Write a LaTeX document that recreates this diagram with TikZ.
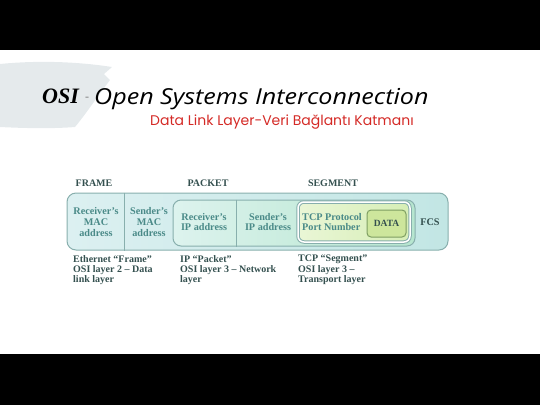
\documentclass[tikz,border=0pt]{standalone}
\usepackage{fontspec}
\setmainfont{Liberation Serif}
\newfontfamily\titlefont{Open Sans}
\newfontfamily\subfont{Poppins}
\usetikzlibrary{positioning}

\definecolor{boxtext}{HTML}{4A8A88}
\definecolor{captext}{HTML}{34504F}
\definecolor{boxline}{HTML}{88AFAD}
\definecolor{subred}{HTML}{D42A26}
\definecolor{swoosh}{HTML}{E5EAEC}
\definecolor{frameleft}{HTML}{DCF0F1}
\definecolor{frameright}{HTML}{C2E6E4}
\definecolor{packetleft}{HTML}{DDF3EE}
\definecolor{packetright}{HTML}{B6E6CF}
\definecolor{segleft}{HTML}{EAF6D6}
\definecolor{segright}{HTML}{D6EEB6}
\definecolor{datafill}{HTML}{CDE69C}
\definecolor{dataline}{HTML}{7E9E62}

\tikzset{
  hdr/.style={font=\bfseries\fontsize{10}{12}\selectfont, text=captext},
  inbox/.style={font=\bfseries\fontsize{10.2}{10.6}\selectfont, text=boxtext, align=center},
  caption/.style={font=\bfseries\fontsize{10}{10.2}\selectfont, text=captext, align=left, anchor=north west, inner sep=0pt},
  layerbox/.style={draw=boxline, line width=1pt, rounded corners=9pt, inner sep=0pt}
}

\begin{document}
\begin{tikzpicture}[x=1pt,y=-1pt]
  \useasboundingbox (0,0) rectangle (540,405);
  \fill[black] (0,0) rectangle (540,50);
  \fill[black] (0,354) rectangle (540,405);

  % brush stroke behind the title
  \fill[swoosh] (0,64) .. controls (40,60) and (80,62) .. (112,67)
    -- (104,74) -- (110,80) .. controls (95,100) and (85,115) .. (75,127)
    .. controls (50,129) and (20,128) .. (0,127) -- cycle;

  % title
  \node[anchor=base west, inner sep=0pt, font=\bfseries\itshape\fontsize{22}{24}\selectfont] (osi) at (42,103) {OSI};
  \node[anchor=base west, inner sep=0pt, text=gray, font=\fontsize{12}{14}\selectfont] (dash) at (85,100) {-};
  \node[anchor=base west, inner sep=0pt, font=\titlefont\itshape\fontsize{22}{24}\selectfont] (title) at (94,104) {\scalebox{1.14}[1]{Open Systems Interconnection}};
  \node[anchor=base west, inner sep=0pt, text=subred, font=\subfont\fontsize{14}{16}\selectfont] (subtitle) at (150,125) {Data Link Layer-Veri Bağlantı Katmanı};

  % headers
  \node[hdr] (hframe) at (94,183) {FRAME};
  \node[hdr] (hpacket) at (208,183) {PACKET};
  \node[hdr] (hsegment) at (333,183) {SEGMENT};

  % nested boxes
  \node[layerbox, minimum width=381pt, minimum height=57pt, left color=frameleft, right color=frameright] (frame) at (257.5,221.5) {};
  \node[layerbox, rounded corners=8pt, minimum width=242pt, minimum height=46pt, left color=packetleft, right color=packetright] (packet) at (294,223) {};
  \node[layerbox, rounded corners=6pt, double=white, double distance=1.5pt, minimum width=112pt, minimum height=40pt, left color=segleft, right color=segright] (segment) at (354,222) {};
  \node[draw=dataline, line width=1pt, rounded corners=4pt, minimum width=39pt, minimum height=27pt, fill=datafill, font=\bfseries\fontsize{9.5}{10}\selectfont, text=captext] (data) at (386.5,223.5) {DATA};

  \coordinate (macsplit) at (124,0);
  \coordinate (ipsplit) at (236,0);
  \draw[boxline, line width=0.7pt] (frame.north -| macsplit) -- (frame.south -| macsplit);
  \draw[boxline, line width=0.7pt] (packet.north -| ipsplit) -- (packet.south -| ipsplit);

  % fields
  \node[inbox] (rmac) at (96,222) {Receiver's\\MAC\\address};
  \node[inbox] (smac) at (149,222) {Sender's\\MAC\\address};
  \node[inbox] (rip) at (204,222) {Receiver's\\IP address};
  \node[inbox] (sip) at (268,222) {Sender's\\IP address};
  \node[inbox, align=left] (tcp) at (332,222) {TCP Protocol\\Port Number};
  \node[inbox, text=captext] (fcs) at (430,222) {FCS};

  % captions
  \node[caption] (cframe) at (73,255) {Ethernet ``Frame''\\OSI layer 2 -- Data\\link layer};
  \node[caption] (cpacket) at (180,255) {IP ``Packet''\\OSI layer 3 -- Network\\layer};
  \node[caption] (csegment) at (298,255) {TCP ``Segment''\\OSI layer 3 --\\Transport layer};
\end{tikzpicture}
\end{document}
